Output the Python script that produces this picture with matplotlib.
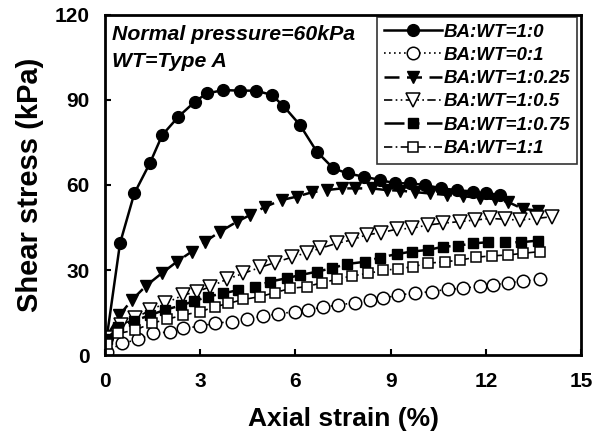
import matplotlib
matplotlib.use("Agg")
import matplotlib.pyplot as plt

plt.rcParams["font.family"] = ["Liberation Sans", "DejaVu Sans"]

# data
x_1_0 = [0.05, 0.47, 0.92, 1.42, 1.8, 2.31, 2.83, 3.2, 3.73, 4.25, 4.75, 5.25, 5.62, 6.14,
         6.67, 7.19, 7.64, 8.17, 8.66, 9.13, 9.6, 10.08, 10.6, 11.08, 11.6, 12.02, 12.44]
y_1_0 = [6, 39.4, 57, 67.9, 77.6, 84.1, 89.4, 92.3, 93.5, 93.3, 93.3, 91.8, 87.9, 81.2,
         71.8, 65.9, 64.1, 62.9, 61.8, 60.6, 60.6, 60, 58.8, 58.2, 57.6, 57, 56.5]

x_0_1 = [0.05, 0.52, 1.05, 1.52, 2.05, 2.47, 3.0, 3.46, 3.99, 4.46, 4.99, 5.46, 5.98, 6.4,
         6.88, 7.35, 7.87, 8.35, 8.77, 9.24, 9.76, 10.29, 10.81, 11.29, 11.8, 12.23, 12.7,
         13.18, 13.7]
y_0_1 = [1.2, 4.1, 5.5, 7.6, 8.2, 9.4, 10.2, 11.2, 11.8, 12.6, 13.8, 14.5, 15.3, 15.9,
         17, 17.6, 18.5, 19.4, 20, 21.2, 21.8, 22.4, 23.2, 23.5, 24.4, 24.7, 25.5, 26.1, 26.7]

x_1_025 = [0.05, 0.45, 0.85, 1.3, 1.78, 2.26, 2.73, 3.15, 3.62, 4.15, 4.57, 5.04, 5.57, 6.04,
           6.51, 6.98, 7.46, 7.87, 8.4, 8.87, 9.29, 9.76, 10.24, 10.76, 11.29, 11.8, 12.3,
           12.7, 13.18, 13.65]
y_1_025 = [6.5, 14, 19.5, 24.5, 28.8, 32.9, 36.5, 40, 43.5, 47, 49.4, 52.3, 54.7, 55.9,
           57.4, 58.2, 58.8, 58.8, 58.8, 58.2, 58, 57.5, 57, 56.5, 56, 55.5, 55, 54, 51.5, 51]

x_1_05 = [0.05, 0.5, 0.94, 1.42, 1.89, 2.47, 2.89, 3.31, 3.83, 4.36, 4.88, 5.35, 5.88, 6.35,
          6.77, 7.3, 7.77, 8.24, 8.71, 9.19, 9.66, 10.18, 10.65, 11.18, 11.65, 12.13, 12.6,
          13.07, 13.6, 14.07]
y_1_05 = [6, 10.5, 12.9, 15.9, 18.2, 21.2, 22.3, 24.1, 26.7, 28.8, 30.9, 32.6, 34.5, 36.1,
          37.6, 39.4, 40.6, 42.4, 43.2, 44.4, 44.7, 45.9, 46.5, 47.1, 47.6, 48.2, 47.9, 47.6,
          48.2, 48.8]

x_1_075 = [0.05, 0.42, 0.9, 1.4, 1.9, 2.4, 2.8, 3.25, 3.73, 4.2, 4.72, 5.2, 5.72, 6.14, 6.67,
           7.14, 7.61, 8.19, 8.66, 9.19, 9.66, 10.18, 10.65, 11.13, 11.6, 12.07, 12.6, 13.12,
           13.65]
y_1_075 = [5.5, 10, 12, 14, 16, 17.5, 19, 20.6, 21.8, 22.9, 24.1, 25.9, 27.1, 28.2, 29.4,
           30.6, 32.1, 32.9, 34.4, 35.6, 36.5, 37.1, 38.2, 38.6, 39.4, 39.8, 39.8, 39.8, 40.4]

x_1_1 = [0.05, 0.42, 0.94, 1.47, 1.94, 2.47, 3.0, 3.46, 3.88, 4.36, 4.88, 5.35, 5.83, 6.35,
         6.83, 7.3, 7.77, 8.29, 8.77, 9.24, 9.71, 10.18, 10.71, 11.18, 11.7, 12.18, 12.7,
         13.18, 13.7]
y_1_1 = [4, 7.6, 8.8, 11.2, 12.6, 14.1, 15.3, 17, 18.2, 19.6, 20.6, 22, 23.5, 24.1, 25.5,
         26.7, 27.9, 28.8, 29.9, 30.4, 31.2, 32.4, 32.9, 33.5, 34.5, 35, 35.3, 35.9, 36.5]

labels = ["BA:WT=1:0", "BA:WT=0:1", "BA:WT=1:0.25", "BA:WT=1:0.5", "BA:WT=1:0.75", "BA:WT=1:1"]
x_ticks = [0, 3, 6, 9, 12, 15]
y_ticks = [0, 30, 60, 90, 120]

fig = plt.figure(figsize=(6.04, 4.41), dpi=100)
ax = fig.add_axes([0.174, 0.195, 0.788, 0.771])

ax.plot(x_1_0, y_1_0, color="black", lw=1.8, ls="-", marker="o", ms=8.5,
        mfc="black", mec="black", label=labels[0])
ax.plot(x_0_1, y_0_1, color="black", lw=1.2, ls=(0, (1, 2)), marker="o", ms=9,
        mfc="white", mec="black", mew=1.1, label=labels[1])
ax.plot(x_1_025, y_1_025, color="black", lw=1.8, ls=(0, (6, 3)), marker="v", ms=9,
        mfc="black", mec="black", label=labels[2])
ax.plot(x_1_05, y_1_05, color="black", lw=1.2, ls=(0, (5, 2, 1, 2, 1, 2)), marker="v", ms=9.5,
        mfc="white", mec="black", mew=1.1, label=labels[3])
ax.plot(x_1_075, y_1_075, color="black", lw=1.8, ls=(0, (8, 3, 3, 3)), marker="s", ms=7.5,
        mfc="black", mec="black", label=labels[4])
ax.plot(x_1_1, y_1_1, color="black", lw=1.2, ls=(0, (5, 2, 1, 2)), marker="s", ms=7.5,
        mfc="white", mec="black", mew=1.1, label=labels[5])

ax.set_xlim(0, 15)
ax.set_ylim(0, 120)
ax.set_xticks(x_ticks)
ax.set_yticks(y_ticks)
ax.tick_params(direction="in", length=4, width=1.5, labelsize=15)
ax.tick_params(axis="x", pad=12)
ax.tick_params(axis="y", pad=11)
for lab in ax.get_xticklabels() + ax.get_yticklabels():
    lab.set_fontweight("bold")
for sp in ax.spines.values():
    sp.set_linewidth(2)

ax.set_xlabel("Axial strain (%)", fontsize=19, fontweight="bold", labelpad=12)
ax.set_ylabel("Shear stress (kPa)", fontsize=21, fontweight="bold", labelpad=8)

ax.text(0.015, 0.97, "Normal pressure=60kPa\nWT=Type A", transform=ax.transAxes,
        fontsize=15.3, fontweight="bold", fontstyle="italic", va="top", ha="left",
        linespacing=1.55)

leg = ax.legend(loc="upper right", bbox_to_anchor=(0.995, 1.0), frameon=True, fancybox=False,
                edgecolor="black", prop={"size": 13.5, "weight": "bold", "style": "italic"},
                handlelength=3.1, handletextpad=0.1, labelspacing=0.33, borderpad=0.35,
                borderaxespad=0.1)
leg.get_frame().set_linewidth(1.2)

fig.savefig("out.png", dpi=100)
